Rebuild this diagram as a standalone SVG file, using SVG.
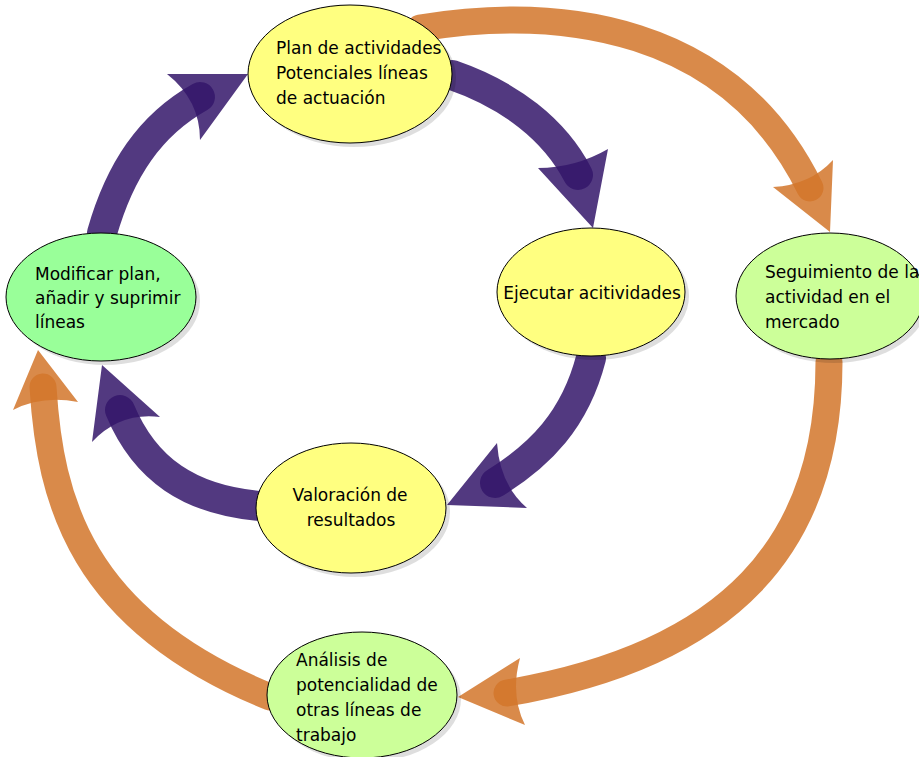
<svg xmlns="http://www.w3.org/2000/svg" width="919" height="757" viewBox="0 0 919 757">
<style>
.p{fill:none;stroke:#34166a;stroke-opacity:0.85;stroke-width:30;stroke-linecap:round}
.ph{fill:#34166a;fill-opacity:0.85}
.o{fill:none;stroke:#d2752a;stroke-opacity:0.85;stroke-width:27;stroke-linecap:round}
.oh{fill:#d2752a;fill-opacity:0.85}
.sh{fill:#000;fill-opacity:0.13}
.n{stroke:#000;stroke-width:1}
.y{fill:#ffff80}
.g{fill:#99ff99}
.lg{fill:#ccff99}
text{font-family:"DejaVu Sans","Liberation Sans",sans-serif;font-size:17px;fill:#000}
.c{text-anchor:middle}
</style>
<rect width="919" height="757" fill="#fff"/>
<g id="connectors">
  <!-- Plan -> Ejecutar -->
  <path class="p" d="M452,75 C510,95 555,130 578,175"/>
  <path class="ph" d="M593,228 L538,168 Q575,168 608,149 Z"/>
  <!-- Ejecutar -> Valoracion -->
  <path class="p" d="M591,358 C575,420 540,455 495,483"/>
  <path class="ph" d="M447,505 L497,443 Q500,485 527,508 Z"/>
  <!-- Valoracion -> Modificar -->
  <path class="p" d="M260,506 C190,500 145,470 120,410"/>
  <path class="ph" d="M102,365 L160,417 Q120,412 92,442 Z"/>
  <!-- Modificar -> Plan -->
  <path class="p" d="M102,233 C120,170 150,125 200,97"/>
  <path class="ph" d="M248,74 L200,140 Q200,100 167,74 Z"/>
  <!-- Plan -> Seguimiento -->
  <path class="o" d="M420,28 C560,5 730,25 810,188"/>
  <path class="oh" d="M830,232 L773,187 Q810,185 833,160 Z"/>
  <!-- Seguimiento -> Analisis -->
  <path class="o" d="M829,362 C829,545 730,655 507,693"/>
  <path class="oh" d="M458,697 L520,658 Q510,695 525,725 Z"/>
  <!-- Analisis -> Modificar -->
  <path class="o" d="M270,697 C80,620 50,500 43,387"/>
  <path class="oh" d="M38,350 L78,402 Q42,395 13,410 Z"/>
</g>
<g id="plan">
  <ellipse class="sh" cx="354" cy="78" rx="102" ry="69"/>
  <ellipse class="n y" cx="350" cy="74" rx="102" ry="69"/>
  <text x="276" y="54">Plan de actividades</text>
  <text x="276" y="79">Potenciales líneas</text>
  <text x="276" y="104">de actuación</text>
</g>
<g id="ejecutar">
  <ellipse class="sh" cx="595" cy="296" rx="94" ry="64"/>
  <ellipse class="n y" cx="591" cy="292" rx="94" ry="64"/>
  <text class="c" x="592" y="299">Ejecutar acitividades</text>
</g>
<g id="valoracion">
  <ellipse class="sh" cx="355" cy="512" rx="95" ry="65"/>
  <ellipse class="n y" cx="351" cy="508" rx="95" ry="65"/>
  <text class="c" x="350" y="501">Valoración de</text>
  <text class="c" x="351" y="526">resultados</text>
</g>
<g id="modificar">
  <ellipse class="sh" cx="105" cy="301" rx="95" ry="64"/>
  <ellipse class="n g" cx="101" cy="297" rx="95" ry="64"/>
  <text x="35" y="280">Modificar plan,</text>
  <text x="35" y="304">añadir y suprimir</text>
  <text x="35" y="328">líneas</text>
</g>
<g id="seguimiento">
  <ellipse class="sh" cx="834" cy="300" rx="94" ry="63"/>
  <ellipse class="n lg" cx="830" cy="296" rx="94" ry="63"/>
  <text x="765" y="278">Seguimiento de la</text>
  <text x="765" y="303">actividad en el</text>
  <text x="765" y="328">mercado</text>
</g>
<g id="analisis">
  <ellipse class="sh" cx="366" cy="699" rx="95" ry="63"/>
  <ellipse class="n lg" cx="362" cy="695" rx="95" ry="63"/>
  <text x="296" y="666">Análisis de</text>
  <text x="296" y="691">potencialidad de</text>
  <text x="296" y="716">otras líneas de</text>
  <text x="296" y="741">trabajo</text>
</g>
</svg>
